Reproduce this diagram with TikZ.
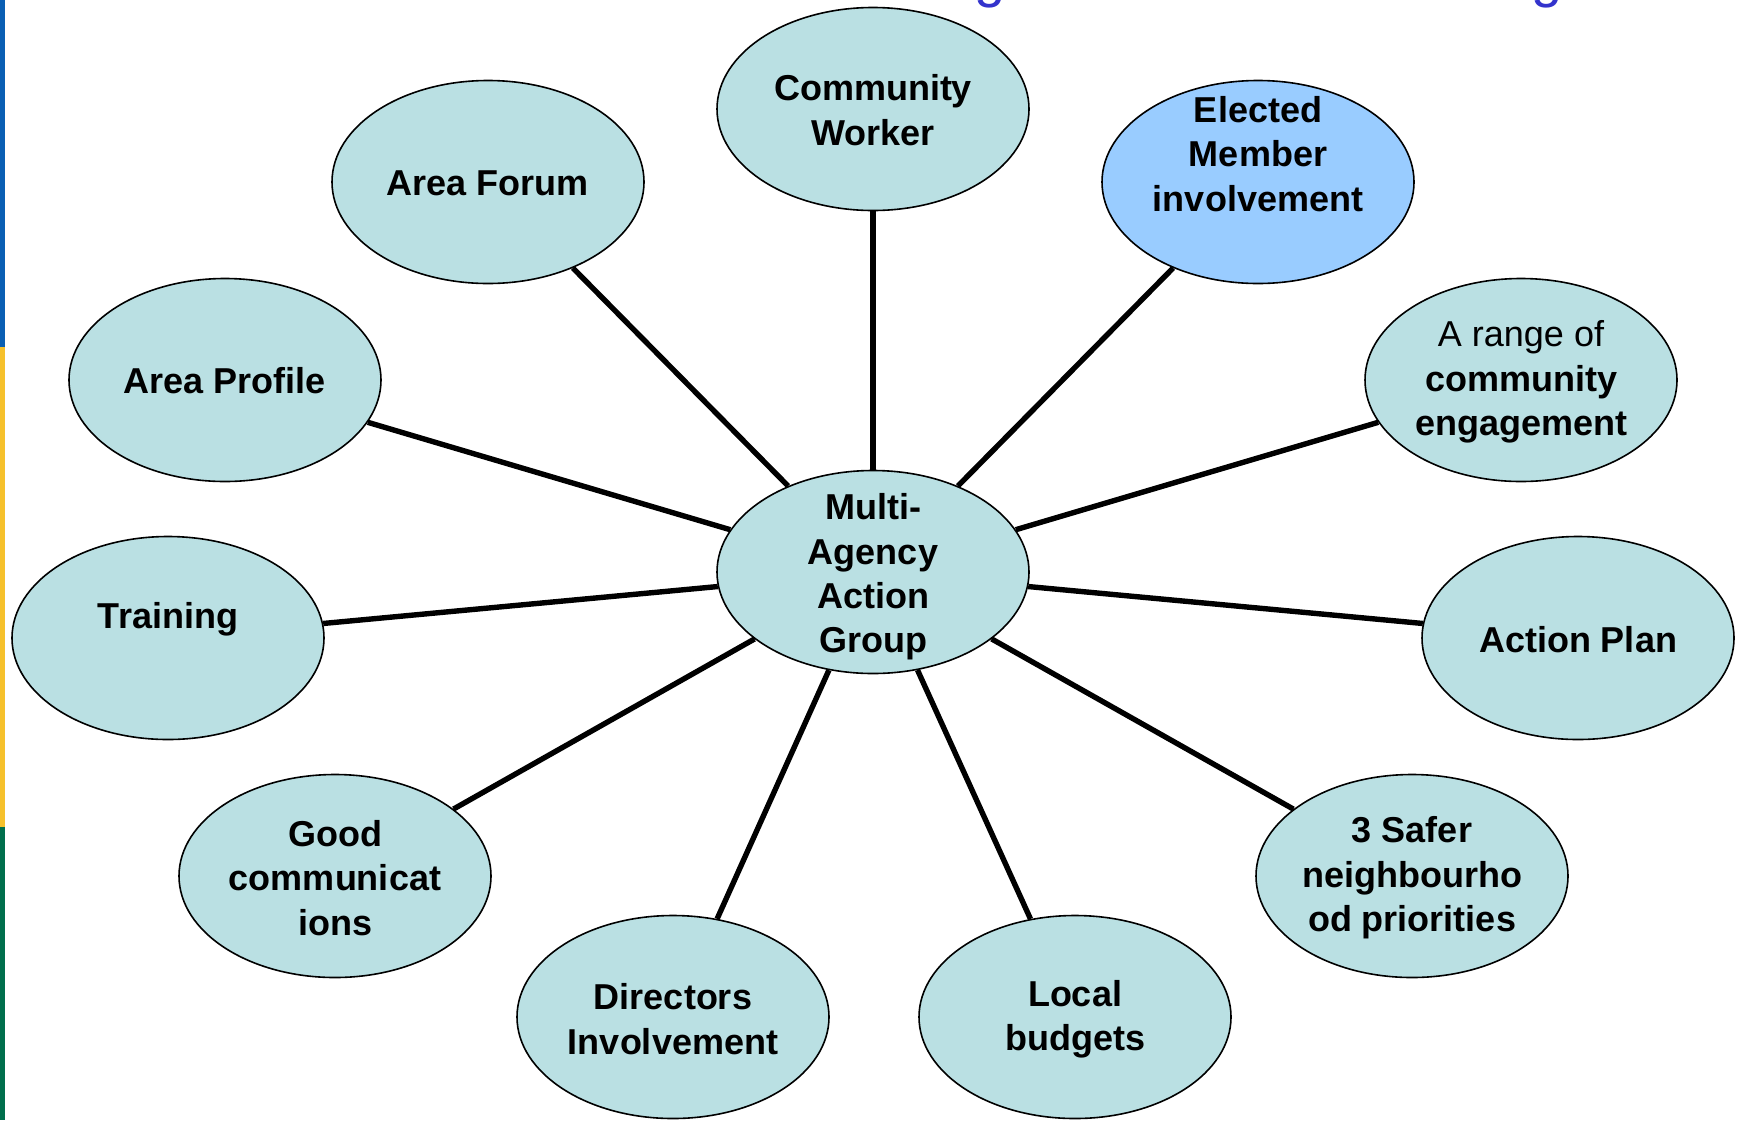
\documentclass[tikz,border=0pt]{standalone}
\usepackage{fontspec}
\setmainfont{Liberation Sans}
\usetikzlibrary{shapes.geometric,backgrounds}
\definecolor{bubble}{HTML}{BAE0E3}
\definecolor{elect}{HTML}{99CCFF}
\definecolor{titleblue}{HTML}{3333CC}
\definecolor{barblue}{HTML}{0A5FB4}
\definecolor{baryellow}{HTML}{F6C12C}
\definecolor{bargreen}{HTML}{006F4C}
\begin{document}
\begin{tikzpicture}[x=0.5pt,y=-0.5pt,
  bub/.style={ellipse,draw=black,line width=0.8pt,fill=bubble,minimum width=156pt,minimum height=101.5pt,inner sep=0pt},
  lab/.style={align=center,font=\fontsize{18}{22.2}\selectfont\bfseries,inner sep=0pt,text=black},
  link/.style={line width=2.7pt,draw=black}]
\useasboundingbox (0,0) rectangle (1738,1120);
% left colour bar
\fill[barblue] (0,0) rectangle (5,347);
\fill[baryellow] (0,347) rectangle (5,827);
\fill[bargreen] (0,827) rectangle (5,1120);
% cut-off title glyphs
\begin{scope}
\clip (0,0) rectangle (1738,1120);
\node[anchor=base,text=titleblue,inner sep=0pt,font=\fontsize{28}{28}\selectfont] (g1) at (990,-4) {g};
\node[anchor=base,text=titleblue,inner sep=0pt,font=\fontsize{28}{28}\selectfont] (g2) at (1547,-4) {g};
\end{scope}
% bubbles
\node[bub] (c)  at (873,572) {};
\node[bub] (cw) at (873,109) {};
\node[bub] (af) at (488,182) {};
\node[bub,fill=elect] (em) at (1258,182) {};
\node[bub] (ap) at (225,380) {};
\node[bub] (rg) at (1521,380) {};
\node[bub] (tr) at (168,638) {};
\node[bub] (pl) at (1578,638) {};
\node[bub] (gc) at (335,876) {};
\node[bub] (sf) at (1412,876) {};
\node[bub] (di) at (673,1017) {};
\node[bub] (lb) at (1075,1017) {};
% connectors
\begin{scope}[on background layer]
\foreach \n in {cw,af,em,ap,rg,tr,pl,gc,sf,di,lb}
  \draw[link] (c) -- (\n);
\end{scope}
% labels
\node[lab] (c-t)  at (873,577) {Multi-\\Agency\\Action\\Group};
\node[lab] (cw-t) at (873,110) {Community\\Worker};
\node[lab] (af-t) at (488,183) {Area Forum};
\node[lab] (em-t) at (1258,154) {Elected\\Member\\involvement};
\node[lab] (ap-t) at (225,381) {Area Profile};
\node[lab] (rg-t) at (1521,382) {{\mdseries A range of}\\community\\engagement};
\node[lab] (tr-t) at (168,619) {Training};
\node[lab] (pl-t) at (1578,640) {Action Plan};
\node[lab] (gc-t) at (335,878) {Good\\communicat\\ions};
\node[lab] (sf-t) at (1412,878) {3 Safer\\neighbourho\\od priorities};
\node[lab] (di-t) at (673,1019) {Directors\\Involvement};
\node[lab] (lb-t) at (1075,1019) {Local\\budgets};
\end{tikzpicture}
\end{document}
